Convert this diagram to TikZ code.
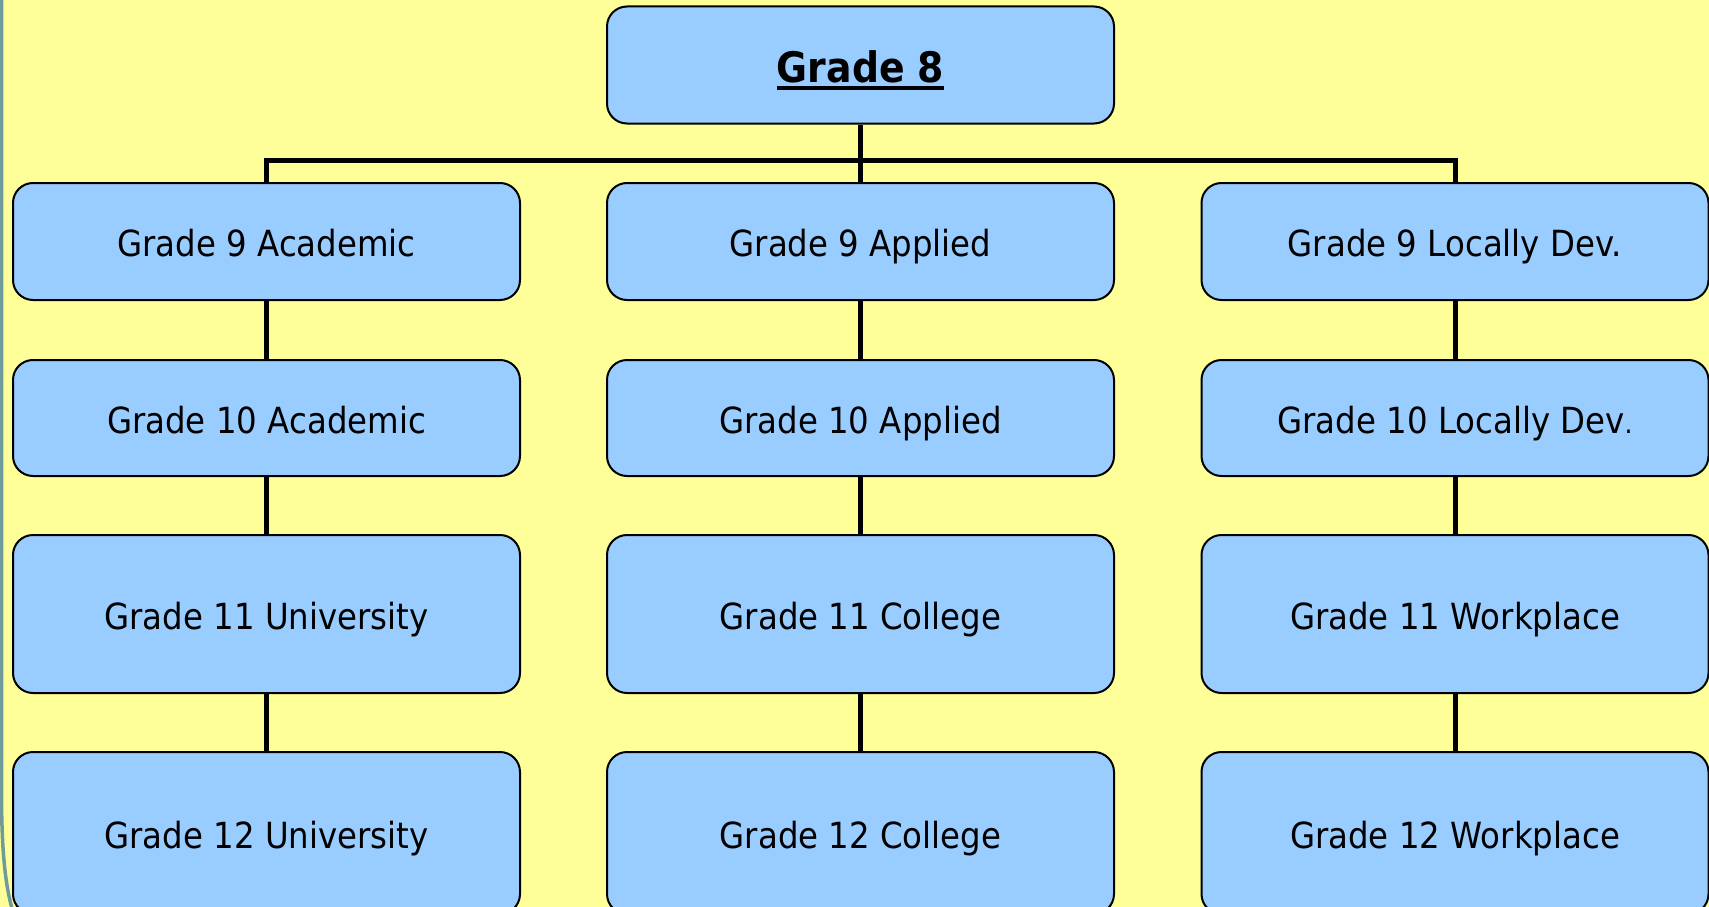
\documentclass[tikz,border=0pt]{standalone}
\usepackage{fontspec}
\setmainfont{DejaVu Sans}[FakeStretch=0.9]
\definecolor{bgyellow}{HTML}{FFFF99}
\definecolor{boxblue}{HTML}{99CCFF}
\definecolor{edgeteal}{HTML}{6F9C9A}
\newcommand\ulbold[1]{\setbox0\hbox{#1}\rlap{\rule[-7.5pt]{\wd0}{3.5pt}}\box0}
\tikzset{
  gbox/.style={draw=black, line width=2pt, fill=boxblue, rounded corners=20pt,
    minimum width=507pt, inner sep=0pt, text height=36pt, text depth=6pt,
    font=\fontsize{36}{40}\selectfont},
  link/.style={line width=5pt, black},
}
\begin{document}
\begin{tikzpicture}[x=1pt,y=-1pt]
\useasboundingbox (0,0) rectangle (1709,907);
\fill[bgyellow] (0,0) rectangle (1709,907);
\draw[edgeteal, line width=3.5pt] (1.5,-5) -- (1.5,790) .. controls (1.5,850) and (5,885) .. (13,912);
% top
\node[gbox, minimum height=117pt, text height=40pt, text depth=5.4pt,
  font=\fontsize{42}{46}\selectfont\bfseries] (g8) at (860.5,65) {\ulbold{Grade 8}};
% row 1
\node[gbox, minimum height=117pt] (a9) at (266.5,241.5) {Grade 9 Academic};
\node[gbox, minimum height=117pt] (p9) at (860.5,241.5) {Grade 9 Applied};
\node[gbox, minimum height=117pt] (l9) at (1455,241.5) {Grade 9 Locally Dev.};
% row 2
\node[gbox, minimum height=116pt] (a10) at (266.5,418) {Grade 10 Academic};
\node[gbox, minimum height=116pt] (p10) at (860.5,418) {Grade 10 Applied};
\node[gbox, minimum height=116pt] (l10) at (1455,418) {Grade 10 Locally Dev{\fontsize{28}{30}\selectfont .}};
% row 3
\node[gbox, minimum height=158pt] (a11) at (266.5,614) {Grade 11 University};
\node[gbox, minimum height=158pt] (p11) at (860.5,614) {Grade 11 College};
\node[gbox, minimum height=158pt] (l11) at (1455,614) {Grade 11 Workplace};
% row 4
\node[gbox, minimum height=162pt] (a12) at (266.5,833) {Grade 12 University};
\node[gbox, minimum height=162pt] (p12) at (860.5,833) {Grade 12 College};
\node[gbox, minimum height=162pt] (l12) at (1455,833) {Grade 12 Workplace};
% connectors
\coordinate (bus) at (860.5,160);
\draw[link] (g8.south) -- (bus);
\draw[link] (a9.north) |- (bus) -| (l9.north);
\draw[link] (bus) -- (p9.north);
\foreach \c in {a,p,l}{
  \draw[link] (\c9.south) -- (\c10.north);
  \draw[link] (\c10.south) -- (\c11.north);
  \draw[link] (\c11.south) -- (\c12.north);
}
\end{tikzpicture}
\end{document}
